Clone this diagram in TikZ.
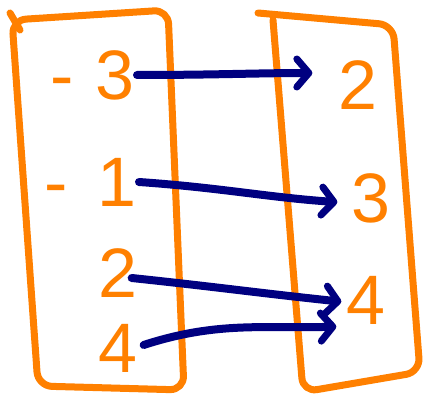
\documentclass[tikz,border=0pt]{standalone}
\usepackage{fontspec}
\setmainfont{Liberation Sans}
\usetikzlibrary{arrows.meta}

\definecolor{boxorange}{HTML}{FF8000}
\definecolor{arrownavy}{HTML}{000080}
\tikzset{
  setbox/.style={draw=boxorange, line width=7pt, line cap=round, line join=round, rounded corners=14pt},
  elem/.style={text=boxorange, font=\fontsize{70}{70}\selectfont, inner sep=2pt},
  maparrow/.style={draw=arrownavy, line width=8pt, line cap=round,
    -{Straight Barb[length=12pt,width=28pt,line width=7pt,round]}}
}

\begin{document}
\begin{tikzpicture}[x=1pt,y=-1pt]
\useasboundingbox (0,0) rectangle (426,403);
% the two sets
\draw[setbox] (12,20) -- (168,10) -- (184,390) -- (38,386) -- cycle;
\draw[boxorange, line width=7pt, line cap=round] (10,13) -- (20,30);
\draw[setbox] (258,13) -- (393,25) -- (420,372) -- (303,392) -- (273,20);
% elements
\node[elem, anchor=east] (in1) at (137,75) {-\hspace{22pt}3};
\node[elem, anchor=east] (in2) at (139,182) {-\hspace{30pt}1};
\node[elem] (in3) at (118,273) {2};
\node[elem] (in4) at (118,348) {4};
\node[elem] (out1) at (358,85) {2};
\node[elem] (out2) at (371,198) {3};
\node[elem] (out3) at (366,300) {4};
% the mapping
\draw[maparrow, shorten >=24pt] (in1.east) to[out=0,in=180] ([yshift=12pt]out1.west);
\draw[maparrow, shorten >=12pt] (in2.east) to[out=-4,in=176] ([yshift=-5pt]out2.west);
\draw[maparrow, shorten >=3pt] ([xshift=-8pt,yshift=-5pt]in3.east) to[out=-6,in=174] ([yshift=-2pt]out3.west);
\draw[maparrow, shorten >=8pt] ([xshift=4pt,yshift=3pt]in4.east) to[out=18,in=182] (out3.south west);
\end{tikzpicture}
\end{document}
